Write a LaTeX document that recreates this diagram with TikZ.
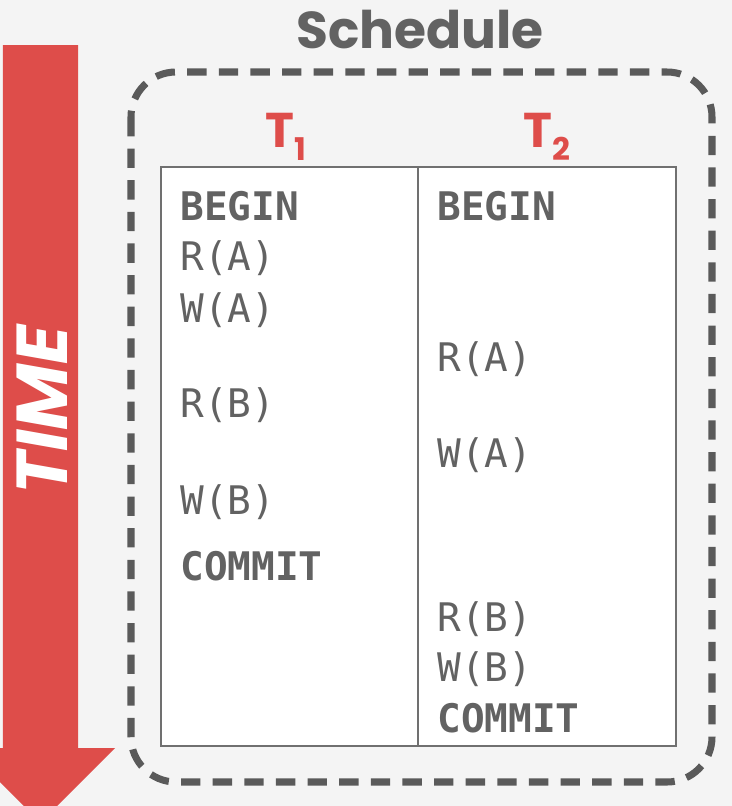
\documentclass[tikz,border=0pt]{standalone}
\usepackage{fontspec}
\usepackage{xcolor}
\usepackage{tikz}
\setmainfont{Poppins}
\setmonofont{DejaVu Sans Mono}
\definecolor{bgcol}{HTML}{F4F4F4}
\definecolor{timered}{HTML}{DE4D4A}
\definecolor{txtgray}{HTML}{626262}
\definecolor{dashgray}{HTML}{5A5A5A}
\definecolor{gridgray}{HTML}{707070}
\newcommand{\txsub}[1]{\raisebox{-7.4pt}{\fontsize{17.8}{20}\selectfont #1}}

\begin{document}
\begin{tikzpicture}[x=0.02cm,y=-0.02cm,
    op/.style={anchor=base west,inner sep=0pt,text=txtgray,
        font=\ttfamily\fontsize{22.4}{26}\selectfont},
    kw/.style={op,font=\ttfamily\bfseries\fontsize{22.4}{26}\selectfont},
    txn/.style={anchor=base,inner sep=0pt,text=timered,
        font=\bfseries\fontsize{27.8}{32}\selectfont}]
    % Canvas
    \fill[bgcol] (0,0) rectangle (732,806);
    \useasboundingbox (0,0) rectangle (732,806);
    \clip (0,0) rectangle (732,806);

    % Time arrow
    \fill[timered] (3,45) -- (78,45) -- (78,748) -- (115,748) -- (40.5,822.5)
        -- (-34,748) -- (3,748) -- cycle;
    \node[rotate=90,text=white,inner sep=0pt,
        font=\bfseries\itshape\fontsize{41}{44}\selectfont] (time) at (42,410) {TIME};

    % Schedule frame
    \draw[dashgray,line width=4pt,dash pattern=on 11pt off 7pt,rounded corners=0.9cm]
        (131,72) rectangle (712,782);
    \node[anchor=base,inner sep=0pt,text=txtgray,
        font=\bfseries\fontsize{29.5}{34}\selectfont] (title) at (420,48) {Schedule};

    % Table
    \draw[fill=white,draw=gridgray,line width=0.9pt] (161,167) rectangle (676,746);
    \draw[gridgray,line width=0.9pt] (418,167) -- (418,746);
    \node[txn] (t1) at (286,147) {T\txsub{1}};
    \node[txn] (t2) at (547,147) {T\txsub{2}};

    % T1 operations
    \node[kw] (t1begin)  at (180,220) {BEGIN};
    \node[op] (t1ra)     at (180,270) {R(A)};
    \node[op] (t1wa)     at (180,322) {W(A)};
    \node[op] (t1rb)     at (180,417) {R(B)};
    \node[op] (t1wb)     at (180,514) {W(B)};
    \node[kw] (t1commit) at (180,580) {COMMIT};

    % T2 operations
    \node[kw] (t2begin)  at (437,220) {BEGIN};
    \node[op] (t2ra)     at (437,371) {R(A)};
    \node[op] (t2wa)     at (437,467) {W(A)};
    \node[op] (t2rb)     at (437,631) {R(B)};
    \node[op] (t2wb)     at (437,681) {W(B)};
    \node[kw] (t2commit) at (437,732) {COMMIT};
\end{tikzpicture}
\end{document}
